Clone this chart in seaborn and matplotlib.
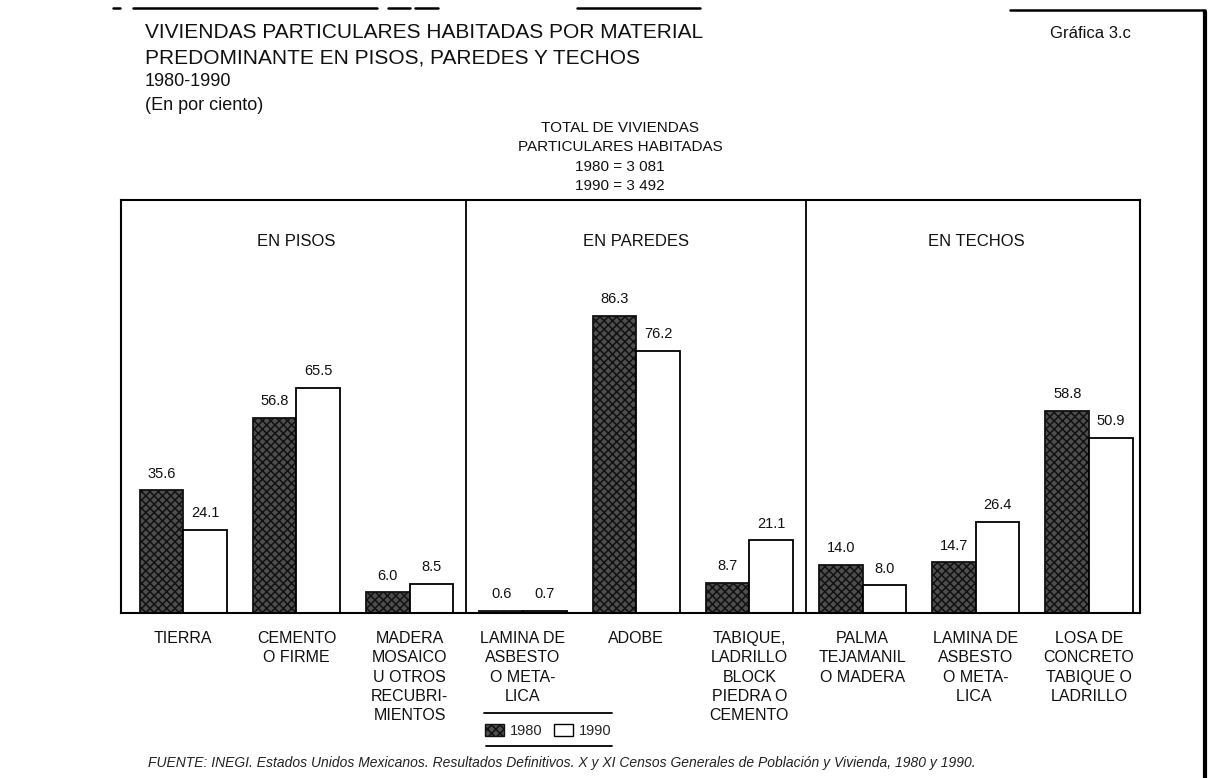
import matplotlib
matplotlib.use("Agg")
import matplotlib.pyplot as plt
import pandas as pd
import seaborn as sns
from matplotlib.patches import Patch
from matplotlib.lines import Line2D

# Categorías por material (pisos, paredes, techos)
categorias = [
    "TIERRA",
    "CEMENTO\nO FIRME",
    "MADERA\nMOSAICO\nU OTROS\nRECUBRI-\nMIENTOS",
    "LAMINA DE\nASBESTO\nO META-\nLICA",
    "ADOBE",
    "TABIQUE,\nLADRILLO\nBLOCK\nPIEDRA O\nCEMENTO",
    "PALMA\nTEJAMANIL\nO MADERA",
    "LAMINA DE\nASBESTO\nO META-\nLICA ",
    "LOSA DE\nCONCRETO\nTABIQUE O\nLADRILLO",
]
paneles = ["EN PISOS", "EN PAREDES", "EN TECHOS"]
anios = ["1980", "1990"]
valores_1980 = [35.6, 56.8, 6.0, 0.6, 86.3, 8.7, 14.0, 14.7, 58.8]
valores_1990 = [24.1, 65.5, 8.5, 0.7, 76.2, 21.1, 8.0, 26.4, 50.9]

W, H = 1210, 778

sns.set_theme(style="white")
plt.rcParams["font.family"] = ["Liberation Sans", "DejaVu Sans"]
plt.rcParams["hatch.linewidth"] = 1.1

df = pd.DataFrame({
    "categoria": categorias * 2,
    "anio": [anios[0]] * len(categorias) + [anios[1]] * len(categorias),
    "valor": valores_1980 + valores_1990,
})

fig = plt.figure(figsize=(W / 100, H / 100), dpi=100)
fig.patch.set_facecolor("white")


def fx(px):
    return px / W


def fy(py):
    return 1 - py / H


ax = fig.add_axes([fx(121), fy(613), fx(1140) - fx(121), fy(200) - fy(613)])
sns.barplot(
    data=df, x="categoria", y="valor", hue="anio",
    order=categorias, hue_order=anios,
    palette={"1980": "#4e4e4e", "1990": "white"},
    width=0.77, saturation=1, edgecolor="black", linewidth=1.3,
    legend=False, ax=ax,
)

# Textura moteada de las barras de 1980
for bar in ax.containers[0]:
    bar.set_hatch("xxxx")
    bar.set_edgecolor("#111111")

for cont, vals in zip(ax.containers, [valores_1980, valores_1990]):
    ax.bar_label(cont, labels=[f"{v:.1f}" for v in vals], padding=7,
                 fontsize=10.5, color="#111111")

ax.set_xlim(-0.55, 8.45)
ax.set_ylim(0, 120)
ax.set_yticks([])
ax.set_xlabel("")
ax.set_ylabel("")
ax.tick_params(axis="x", length=0, pad=13, labelsize=11.5, colors="#111111")
for lbl in ax.get_xticklabels():
    lbl.set_linespacing(1.36)
    lbl.set_verticalalignment("top")
for sp in ax.spines.values():
    sp.set_visible(True)
    sp.set_color("black")
    sp.set_linewidth(1.5)

# Separadores entre paneles y títulos de panel
for xd in (2.5, 5.5):
    ax.axvline(xd, color="black", lw=1.3)
for i, nombre in enumerate(paneles):
    ax.text(1 + 3 * i, 108, nombre, ha="center", va="center",
            fontsize=12, color="#111111")

# Títulos
titulo = ["VIVIENDAS PARTICULARES HABITADAS POR MATERIAL",
          "PREDOMINANTE EN PISOS, PAREDES Y TECHOS",
          "1980-1990",
          "(En por ciento)"]
for t, y in zip(titulo, [33, 58, 82, 106]):
    fig.text(fx(145), fy(y), t, ha="left", va="center",
             fontsize=15 if y < 70 else 13, color="#111111")
fig.text(fx(1050), fy(33), "Gráfica 3.c", ha="left", va="center",
         fontsize=12, color="#111111")

nota = ["TOTAL DE VIVIENDAS", "PARTICULARES HABITADAS",
        "1980 = 3 081", "1990 = 3 492"]
for t, y in zip(nota, [128, 147, 167, 186]):
    fig.text(fx(620), fy(y), t, ha="center", va="center",
             fontsize=11, color="#111111")

# Leyenda
handles = [Patch(facecolor="#4e4e4e", edgecolor="#111111", hatch="xxxx"),
           Patch(facecolor="white", edgecolor="black")]
fig.legend(handles, anios, loc="center", bbox_to_anchor=(fx(548), fy(731)),
           ncol=2, frameon=False, fontsize=10.5, handlelength=1.3,
           handleheight=0.9, handletextpad=0.4, columnspacing=0.8)
fig.add_artist(Line2D([fx(484), fx(612)], [fy(713), fy(713)],
                      color="black", lw=1.3))
fig.add_artist(Line2D([fx(486), fx(612)], [fy(746), fy(746)],
                      color="black", lw=1.3))

# Fuente
fig.text(fx(148), fy(763),
         "FUENTE: INEGI. Estados Unidos Mexicanos. Resultados Definitivos. "
         "X y XI Censos Generales de Población y Vivienda, 1980 y 1990.",
         ha="left", va="center", fontsize=10, style="italic",
         color="#222222")

# Filetes de la página
for x0, x1 in [(113, 120), (133, 377), (388, 410), (415, 438), (577, 700)]:
    fig.add_artist(Line2D([fx(x0), fx(x1)], [fy(8), fy(8)],
                          color="black", lw=1.8))
fig.add_artist(Line2D([fx(1010), fx(1205)], [fy(10), fy(10)],
                      color="black", lw=1.8))
fig.add_artist(Line2D([fx(1205), fx(1205)], [fy(12), fy(778)],
                      color="black", lw=3))

fig.savefig("out.png", dpi=100, facecolor="white")
